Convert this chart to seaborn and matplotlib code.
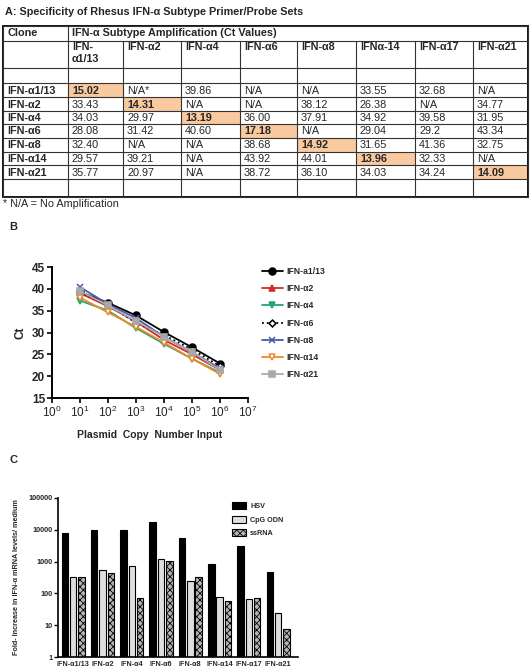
import numpy as np
import matplotlib
matplotlib.use("Agg")
import matplotlib.pyplot as plt
import seaborn as sns
import pandas as pd
from matplotlib.patches import Patch, Rectangle
from matplotlib.lines import Line2D
from matplotlib.ticker import FixedLocator, NullLocator, FixedFormatter

sns.set_theme(style="ticks")
plt.rcParams['font.family'] = ['Liberation Sans', 'DejaVu Sans']
plt.rcParams['mathtext.fontset'] = 'custom'
plt.rcParams['mathtext.rm'] = 'Liberation Sans'
plt.rcParams['mathtext.bf'] = 'Liberation Sans:bold'
plt.rcParams['mathtext.default'] = 'bf'
plt.rcParams['hatch.linewidth'] = 0.6

W, H = 532, 671

# ---- panel A: Ct table ----
clones = ["IFN-α1/13", "IFN-α2", "IFN-α4", "IFN-α6", "IFN-α8", "IFN-α14", "IFN-α21"]
subtypes = ["IFN-\nα1/13", "IFN-α2", "IFN-α4", "IFN-α6", "IFN-α8", "IFNα-14", "IFN-α17", "IFN-α21"]
ct_a1_13 = ["15.02", "N/A*", "39.86", "N/A", "N/A", "33.55", "32.68", "N/A"]
ct_a2 = ["33.43", "14.31", "N/A", "N/A", "38.12", "26.38", "N/A", "34.77"]
ct_a4 = ["34.03", "29.97", "13.19", "36.00", "37.91", "34.92", "39.58", "31.95"]
ct_a6 = ["28.08", "31.42", "40.60", "17.18", "N/A", "29.04", "29.2", "43.34"]
ct_a8 = ["32.40", "N/A", "N/A", "38.68", "14.92", "31.65", "41.36", "32.75"]
ct_a14 = ["29.57", "39.21", "N/A", "43.92", "44.01", "13.96", "32.33", "N/A"]
ct_a21 = ["35.77", "20.97", "N/A", "38.72", "36.10", "34.03", "34.24", "14.09"]
matched = [0, 1, 2, 3, 4, 5, 7]

# ---- panel B: standard curves ----
copies = [1e1, 1e2, 1e3, 1e4, 1e5, 1e6]
std_labels = ["IFN-a1/13", "IFN-α2", "IFN-α4", "IFN-α6", "IFN-α8", "IFN-α14", "IFN-α21"]
std_a1_13 = [39.3, 36.8, 33.9, 30.1, 26.6, 22.9]
std_a2 = [39.0, 36.0, 32.5, 28.3, 25.0, 21.4]
std_a4 = [37.3, 35.0, 31.0, 27.4, 24.0, 20.8]
std_a6 = [39.2, 36.4, 32.2, 29.4, 26.1, 22.3]
std_a8 = [40.4, 36.5, 33.3, 29.0, 25.5, 21.8]
std_a14 = [38.0, 34.6, 31.3, 27.7, 24.0, 20.5]
std_a21 = [39.5, 36.2, 32.6, 29.0, 25.6, 21.4]

# ---- panel C: fold increase ----
c_labels = ["IFN-α1/13", "IFN-α2", "IFN-α4", "IFN-α6", "IFN-α8", "IFN-α14", "IFN-α17", "IFN-α21"]
stimuli = ["HSV", "CpG ODN", "ssRNA"]
hsv = [7700, 10000, 9900, 17000, 5350, 850, 3200, 480]
cpg = [324, 550, 730, 1210, 250, 75, 68, 24]
ssrna = [324, 430, 73, 1020, 320, 57, 72, 7.5]


def px_axes(fig, x0, y0, x1, y1):
    return fig.add_axes([x0 / W, 1 - y1 / H, (x1 - x0) / W, (y1 - y0) / H])


fig = plt.figure(figsize=(W / 100, H / 100), dpi=100)

# overlay axes in pixel coordinates for the table and panel letters
ax0 = fig.add_axes([0, 0, 1, 1])
ax0.set_xlim(0, W)
ax0.set_ylim(H, 0)
ax0.axis('off')

fs = 7.8
ax0.text(5, 12, "A: Specificity of Rhesus IFN-α Subtype Primer/Probe Sets",
         fontsize=fs, fontweight='bold', va='center', ha='left')

col_edges = [3, 68, 123, 181, 240, 297, 356, 415, 473, 528]
row_edges = [26, 41, 68, 83, 97, 111, 124, 138, 152, 165, 179, 197]
rows = [ct_a1_13, ct_a2, ct_a4, ct_a6, ct_a8, ct_a14, ct_a21]

for i, j in enumerate(matched):
    ax0.add_patch(Rectangle((col_edges[j + 1], row_edges[3 + i]),
                            col_edges[j + 2] - col_edges[j + 1],
                            row_edges[4 + i] - row_edges[3 + i],
                            facecolor='#f9c9a0', edgecolor='none'))

lc = '#333333'
for y in row_edges:
    ax0.plot([col_edges[0], col_edges[-1]], [y, y], color=lc, lw=0.8)
for k, x in enumerate(col_edges):
    if k in (0, 1, len(col_edges) - 1):
        ax0.plot([x, x], [row_edges[0], row_edges[-1]], color=lc, lw=0.8)
    else:
        ax0.plot([x, x], [row_edges[1], row_edges[-1]], color=lc, lw=0.8)
ax0.add_patch(Rectangle((col_edges[0], row_edges[0]), col_edges[-1] - col_edges[0],
                        row_edges[-1] - row_edges[0], fill=False, edgecolor='black', lw=1.3))

pad = 4
ymid0 = (row_edges[0] + row_edges[1]) / 2
ax0.text(col_edges[0] + pad, ymid0, "Clone", fontsize=fs, fontweight='bold', va='center')
ax0.text(col_edges[1] + pad, ymid0, "IFN-α Subtype Amplification (Ct Values)",
         fontsize=fs, fontweight='bold', va='center')
for j, s in enumerate(subtypes):
    ax0.text(col_edges[j + 1] + pad, row_edges[1] + 1.5, s, fontsize=fs,
             fontweight='bold', va='top', linespacing=1.15)
for i, (name, vals) in enumerate(zip(clones, rows)):
    ym = (row_edges[3 + i] + row_edges[4 + i]) / 2 + 0.5
    ax0.text(col_edges[0] + pad, ym, name, fontsize=fs, fontweight='bold', va='center')
    for j, v in enumerate(vals):
        ax0.text(col_edges[j + 1] + pad, ym, v, fontsize=fs, va='center',
                 fontweight='bold' if j == matched[i] else 'normal')
ax0.text(3, 204, "* N/A = No Amplification", fontsize=fs, va='center')

ax0.text(9, 227, "B", fontsize=8, fontweight='bold', va='center')
ax0.text(9, 460, "C", fontsize=8, fontweight='bold', va='center')

# ---- panel B ----
axB = px_axes(fig, 52, 267, 248, 398)
series = [std_a1_13, std_a2, std_a4, std_a6, std_a8, std_a14, std_a21]
colors = ['black', '#d42a2a', '#1ea57a', 'black', '#4a5aa8', '#f08a24', '#a8a8a8']
markers = ['o', '^', 'v', 'D', 'x', 'v', 's']
mfaces = ['black', '#d42a2a', '#1ea57a', 'white', '#4a5aa8', 'white', '#a8a8a8']
styles = ['-', '-', '-', ':', '-', '-', '-']
msizes = [5, 4.5, 4.5, 3.5, 5, 5, 4.5]
for vals, lab, c, m, mf, ls, ms in zip(series, std_labels, colors, markers, mfaces, styles, msizes):
    sns.lineplot(x=copies, y=vals, ax=axB, color=c, marker=m, markerfacecolor=mf,
                 markeredgecolor=c, linestyle=ls, linewidth=1.3, markersize=ms,
                 markeredgewidth=1.1, label=lab)
axB.set_xscale('log')
axB.set_xlim(1, 1e7)
axB.set_ylim(15, 45)
axB.xaxis.set_major_locator(FixedLocator([10.0 ** k for k in range(8)]))
axB.xaxis.set_minor_locator(NullLocator())
axB.set_yticks([15, 20, 25, 30, 35, 40, 45])
for sp in ['top', 'right']:
    axB.spines[sp].set_visible(False)
for sp in ['left', 'bottom']:
    axB.spines[sp].set_linewidth(1.4)
    axB.spines[sp].set_color('black')
axB.tick_params(axis='both', direction='out', length=3.5, width=1.2, labelsize=8.5, pad=1.5, color='black')
for t in axB.get_yticklabels():
    t.set_fontweight('bold')
axB.set_ylabel("Ct", fontsize=8.5, fontweight='bold', labelpad=4)
axB.set_xlabel("Plasmid  Copy  Number Input", fontsize=7.5, fontweight='bold', labelpad=7)
hB, lB = axB.get_legend_handles_labels()
axB.legend(hB, lB, loc='upper left', bbox_to_anchor=(262 / W, 1 - 267 / H),
           bbox_transform=fig.transFigure, frameon=False, borderaxespad=0, borderpad=0,
           fontsize=6.2, prop={'weight': 'bold', 'size': 6.2}, handlelength=2.4,
           handletextpad=0.4, labelspacing=0.95)

# ---- panel C ----
axC = px_axes(fig, 58, 498, 298, 657)
df = pd.DataFrame({
    'subtype': c_labels * 3,
    'stim': [s for s in stimuli for _ in c_labels],
    'fold': hsv + cpg + ssrna,
})
sns.barplot(data=df, x='subtype', y='fold', hue='stim', hue_order=stimuli,
            palette=['black', '#dedede', '#b5b5b5'], width=0.85, gap=0.22,
            edgecolor='black', linewidth=0.8, ax=axC, legend=False)
for bar in axC.containers[2]:
    bar.set_hatch('xxxxx')
axC.set_yscale('log')
axC.set_ylim(1, 1e5)
axC.set_xlim(-0.52, 7.68)
axC.yaxis.set_major_locator(FixedLocator([1, 10, 100, 1000, 10000, 100000]))
axC.yaxis.set_major_formatter(FixedFormatter(["1", "10", "100", "1000", "10000", "100000"]))
axC.yaxis.set_minor_locator(NullLocator())
for sp in ['top', 'right']:
    axC.spines[sp].set_visible(False)
for sp in ['left', 'bottom']:
    axC.spines[sp].set_linewidth(1.2)
    axC.spines[sp].set_color('black')
axC.tick_params(axis='y', direction='out', length=3, width=1, labelsize=5.2, pad=1, color='black')
axC.tick_params(axis='x', length=0, labelsize=5.2, pad=3)
for t in axC.get_yticklabels() + axC.get_xticklabels():
    t.set_fontweight('bold')
axC.set_xlabel("")
axC.set_ylabel("Fold- Increase in IFN-α mRNA levels/ medium", fontsize=5.2,
               fontweight='bold', labelpad=6)
hC = [Patch(facecolor='black', edgecolor='black', lw=0.8),
      Patch(facecolor='#dedede', edgecolor='black', lw=0.8),
      Patch(facecolor='#b5b5b5', edgecolor='black', lw=0.8, hatch='xxxxx')]
axC.legend(hC, stimuli, loc='upper left', bbox_to_anchor=(232 / W, 1 - 502 / H),
           bbox_transform=fig.transFigure, frameon=False, borderaxespad=0, borderpad=0,
           prop={'weight': 'bold', 'size': 5.2}, handlelength=1.9, handleheight=1.1,
           handletextpad=0.6, labelspacing=0.8)

fig.savefig("out.png", dpi=100)
